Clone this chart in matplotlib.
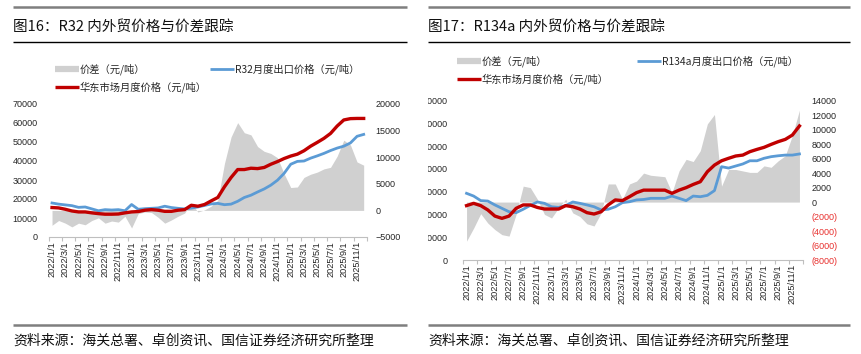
import matplotlib
matplotlib.use('Agg')
import matplotlib.pyplot as plt
from matplotlib.lines import Line2D
from matplotlib.patches import Rectangle
from matplotlib.ticker import FixedLocator, FuncFormatter

plt.rcParams['font.family'] = ['Liberation Sans', 'Noto Sans CJK SC', 'DejaVu Sans']
plt.rcParams['axes.unicode_minus'] = True

# month categories 2022/1 .. 2025/12
months = [f"{y}/{m}/1" for y in range(2022, 2026) for m in range(1, 13)]

# R32 (yuan/ton)
r32_export = [17900, 17300, 16900, 16500, 15600, 15800, 14800, 13800, 14400, 14200, 14400, 13800,
              17100, 14600, 14900, 15100, 15300, 16200, 15500, 15100, 14800, 15200, 15800, 16600,
              17400, 17700, 17000, 17300, 18800, 20800, 22000, 23700, 25300, 27300, 29900, 33500,
              38300, 39800, 40000, 41500, 42700, 44000, 45500, 46800, 47800, 49500, 53000, 54000]
r32_east = [15500, 15300, 14600, 13700, 13200, 13200, 12700, 12300, 12000, 12000, 12100, 12700,
            13200, 13400, 14100, 14400, 14100, 13500, 13500, 14100, 14400, 16700, 16200, 17100,
            19000, 20800, 26400, 31300, 35500, 35500, 36200, 36000, 36600, 38300, 39700, 41300,
            42600, 43600, 45400, 47800, 49800, 51900, 54500, 58400, 61600, 62300, 62400, 62400]
r32_spread = [-2800, -1900, -2400, -3100, -2400, -2700, -1900, -1400, -2400, -2000, -2200, -1100,
              -3300, -600, -300, -400, -1300, -2400, -1800, -1100, -500, 1400, -300, 100,
              800, 1900, 8800, 13800, 16500, 14600, 14200, 12000, 11100, 10700, 9900, 6900,
              4300, 4400, 6200, 6800, 7200, 7800, 8100, 10200, 13200, 12300, 9100, 8500]

# R134a (yuan/ton)
r134a_export = [29300, 28100, 26100, 25900, 24200, 22700, 21200, 20800, 22300, 24000, 25500, 24900,
                23400, 23100, 23900, 25500, 24900, 24200, 23400, 22000, 22300, 23400, 25200, 25600,
                26400, 26600, 27100, 27100, 27100, 28100, 27100, 26100, 28100, 27800, 28400, 30500,
                41000, 40400, 41300, 42200, 43600, 43600, 44700, 45400, 45800, 46100, 46100, 46600]
r134a_east = [23900, 24900, 23900, 22000, 19300, 18300, 19300, 22700, 24200, 24200, 23100, 22400,
              22400, 22400, 23900, 23400, 22400, 20800, 20200, 21200, 24200, 26400, 26100, 27800,
              29600, 30700, 30700, 30700, 30700, 29300, 30700, 31800, 33200, 34400, 38800, 41700,
              43600, 44700, 45700, 46100, 47600, 48600, 49500, 50800, 52000, 53000, 54900, 58900]
r134a_spread = [-5400, -3600, -1600, -2900, -3800, -4500, -4700, -1700, 2200, 2000, 400, -1700,
                -2200, -800, 400, -1500, -2000, -3000, -3300, -1500, 2500, 2500, 400, 2500,
                2900, 4000, 3700, 3600, 3500, 1300, 4300, 5900, 5600, 7100, 10800, 12100,
                2200, 4500, 4500, 4300, 4100, 4100, 5000, 4800, 5700, 6400, 9200, 12700]

W, H = 862, 354
GRAY_FILL = '#D0D0D0'
BLUE = '#5B9BD5'
RED = '#C00000'
TXT = '#262626'
CJK = ['Noto Sans CJK SC', 'Liberation Sans', 'DejaVu Sans']

fig = plt.figure(figsize=(W / 100, H / 100), dpi=100)


def fx(px):
    return px / W


def fy(py):
    return 1 - py / H


def hline(x0, x1, y, color, lw):
    fig.add_artist(Line2D([fx(x0), fx(x1)], [fy(y), fy(y)], color=color, lw=lw,
                          solid_capstyle='butt'))


def legend_entry(x, y, color, lw, label):
    fig.add_artist(Line2D([fx(x), fx(x + 24)], [fy(y), fy(y)], color=color, lw=lw,
                          solid_capstyle='butt'))
    fig.text(fx(x + 25), fy(y), label, fontsize=7.4, color=TXT, va='center', ha='left',
             family=CJK)


def panel(rect, spread, export, east, ylim2, yticks2, fmt2, neg_red, lpad):
    ax = fig.add_axes(rect)
    ax2 = ax.twinx()
    x = list(range(len(months)))

    ax2.fill_between(x, 0, spread, color=GRAY_FILL, lw=0, zorder=1)
    ax.plot(x, export, color=BLUE, lw=2.0, zorder=3, solid_joinstyle='round')
    ax.plot(x, east, color=RED, lw=2.4, zorder=4, solid_joinstyle='round')

    # draw the primary axis above the twin so lines sit on top of the fill
    ax.set_zorder(ax2.get_zorder() + 1)
    ax.patch.set_visible(False)

    ax.set_xlim(-0.5, len(months) - 0.5)
    ax.set_ylim(0, 70000)
    ax.set_yticks(range(0, 70001, 10000))
    ax2.set_ylim(*ylim2)
    ax2.set_yticks(yticks2)
    ax2.yaxis.set_major_formatter(FuncFormatter(fmt2))

    ax.set_xticks(x[::2])
    ax.set_xticklabels(months[::2], rotation=90, fontsize=6.6, color=TXT)
    ax.xaxis.set_minor_locator(FixedLocator([i - 0.5 for i in range(0, len(months) + 1, 2)]))
    ax.tick_params(axis='x', which='major', length=0, pad=3)
    ax.tick_params(axis='x', which='minor', length=3, color='#BFBFBF', width=0.8)
    ax.tick_params(axis='y', length=0, labelsize=6.5, labelcolor=TXT, pad=lpad)
    ax2.tick_params(axis='y', length=0, labelsize=6.5, labelcolor=TXT, pad=6)

    for s in ['top', 'left', 'right']:
        ax.spines[s].set_visible(False)
        ax2.spines[s].set_visible(False)
    ax2.spines['bottom'].set_visible(False)
    ax.spines['bottom'].set_color('#BFBFBF')
    ax.spines['bottom'].set_linewidth(0.8)

    if neg_red:
        for lab, v in zip(ax2.get_yticklabels(), yticks2):
            if v < 0:
                lab.set_color('#E8302E')
    return ax, ax2


# ---- left panel: R32
hline(13, 407, 7, '#7F7F7F', 1.8)
fig.text(fx(13), fy(27), '图16：R32 内外贸价格与价差跟踪', fontsize=10.5, color='#111111',
         va='center', ha='left', family=CJK)
hline(13, 407, 42, '#000000', 1.0)
legend_entry(55, 69, GRAY_FILL, 4.5, '价差（元/吨）')
legend_entry(210, 69, BLUE, 2.0, 'R32月度出口价格（元/吨）')
legend_entry(55, 87, RED, 2.4, '华东市场月度价格（元/吨）')

panel([fx(48.7), fy(237), fx(367) - fx(48.7), fy(104) - fy(237)],
      r32_spread, r32_export, r32_east,
      (-5000, 20000), list(range(-5000, 20001, 5000)),
      lambda v, p: f"{v:.0f}".replace('-', '\u2212'), False, 8)

hline(13, 407, 325, '#7F7F7F', 1.8)
fig.text(fx(13), fy(341), '资料来源：海关总署、卓创资讯、国信证券经济研究所整理', fontsize=10.0,
         color='#111111', va='center', ha='left', family=CJK)

# ---- right panel: R134a
hline(428, 850, 7, '#7F7F7F', 1.8)
fig.text(fx(428), fy(27), '图17：R134a 内外贸价格与价差跟踪', fontsize=10.5, color='#111111',
         va='center', ha='left', family=CJK)
hline(428, 850, 42, '#000000', 1.0)
legend_entry(457, 61, GRAY_FILL, 4.5, '价差（元/吨）')
legend_entry(637, 61, BLUE, 2.0, 'R134a月度出口价格（元/吨）')
legend_entry(457, 79, RED, 2.4, '华东市场月度价格（元/吨）')

panel([fx(463), fy(260), fx(803) - fx(463), fy(100.7) - fy(260)],
      r134a_spread, r134a_export, r134a_east,
      (-8000, 14000), list(range(-8000, 14001, 2000)),
      lambda v, p: f"({abs(v):.0f})" if v < 0 else f"{v:.0f}", True, 11)

# the source image cuts off the first digit of the right panel's left-axis labels
fig.add_artist(Rectangle((fx(405), fy(270)), fx(428) - fx(405), fy(95) - fy(270),
                         transform=fig.transFigure, facecolor='white', edgecolor='none',
                         zorder=10))

hline(428, 850, 325, '#7F7F7F', 1.8)
fig.text(fx(428), fy(341), '资料来源：海关总署、卓创资讯、国信证券经济研究所整理', fontsize=10.0,
         color='#111111', va='center', ha='left', family=CJK)

fig.savefig('out.png', dpi=100, facecolor='white')
